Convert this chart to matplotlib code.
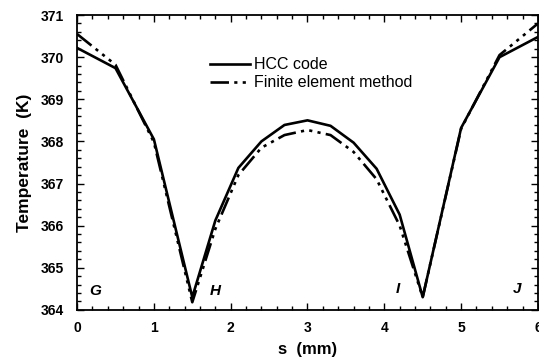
import matplotlib
matplotlib.use("Agg")
import matplotlib.pyplot as plt
from matplotlib.ticker import MultipleLocator

plt.rcParams['font.family'] = ['Liberation Sans', 'DejaVu Sans']

# temperature along the path G-H-I-J
s_mm = [0.0, 0.5, 1.0, 1.5, 1.8, 2.1, 2.4, 2.7, 3.0, 3.3, 3.6, 3.9, 4.2, 4.5, 5.0, 5.5, 6.0]
t_hcc = [370.22, 369.74, 368.05, 364.3, 366.12, 367.37, 368.0, 368.39, 368.5,
         368.37, 367.97, 367.35, 366.26, 364.3, 368.32, 370.0, 370.48]
t_fem = [370.55, 369.82, 367.98, 364.18, 365.92, 367.2, 367.85, 368.15, 368.27,
         368.15, 367.75, 367.1, 366.0, 364.3, 368.3, 370.05, 370.8]

point_names = ["G", "H", "I", "J"]
point_s = [0.23, 1.8, 4.17, 5.73]
point_t = [364.45, 364.45, 364.5, 364.5]

fig = plt.figure(figsize=(5.39, 3.59), dpi=100)
ax = fig.add_axes([0.143, 0.137, 0.855, 0.821])

ax.plot(s_mm, t_hcc, color="black", lw=1.9, label="HCC code")
ax.plot(s_mm, t_fem, color="black", lw=1.9,
        dashes=(7, 2, 1.2, 2, 1.2, 2, 1.2, 2), label="Finite element method")

for name, x, y in zip(point_names, point_s, point_t):
    ax.text(x, y, name, fontsize=11, fontweight="bold", fontstyle="italic",
            ha="center", va="center")

ax.set_xlim(0, 6)
ax.set_ylim(364, 371)
ax.xaxis.set_major_locator(MultipleLocator(1))
ax.xaxis.set_minor_locator(MultipleLocator(0.2))
ax.yaxis.set_major_locator(MultipleLocator(1))
ax.yaxis.set_minor_locator(MultipleLocator(0.2))
ax.tick_params(which="both", direction="in", top=True, right=True, width=1)
ax.tick_params(which="major", length=5, labelsize=10)
ax.tick_params(axis="x", which="major", pad=8)
ax.tick_params(axis="y", which="major", pad=9.5)
ax.tick_params(which="minor", length=3)
for lab in ax.get_xticklabels() + ax.get_yticklabels():
    lab.set_fontweight("bold")
for sp in ax.spines.values():
    sp.set_linewidth(1.3)

ax.set_xlabel("s  (mm)", fontsize=12, fontweight="bold", labelpad=5)
ax.set_ylabel("Temperature  (K)", fontsize=12.5, fontweight="bold", labelpad=6)

ax.legend(loc="upper left", bbox_to_anchor=(0.265, 0.895), frameon=False,
          fontsize=11.5, handlelength=2.5, handletextpad=0.2, labelspacing=0.2,
          borderpad=0.2)

fig.savefig("out.png", dpi=100)
